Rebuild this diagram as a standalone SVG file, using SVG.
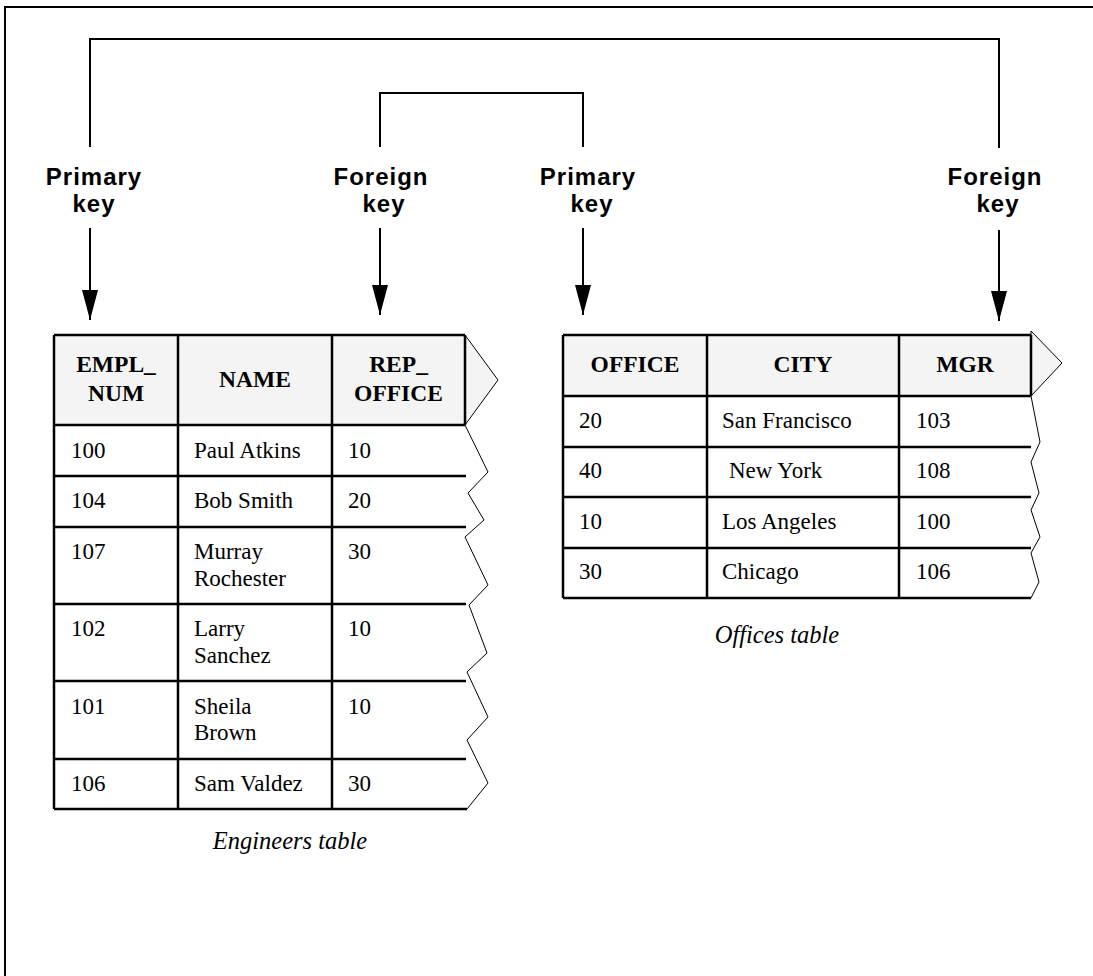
<svg xmlns="http://www.w3.org/2000/svg" width="1093" height="976" viewBox="0 0 1093 976">
<style>
.frame{fill:none;stroke:#000;stroke-width:2}
.conn{fill:none;stroke:#000;stroke-width:2}
.tl{fill:none;stroke:#000;stroke-width:2.5}
.zz{fill:none;stroke:#000;stroke-width:1}
.hdr{fill:#f4f4f4;stroke:none}
.chev{fill:#f4f4f4;stroke:#000;stroke-width:1}
.lbl{font-family:"Liberation Sans",Arial,sans-serif;font-weight:bold;font-size:24px;letter-spacing:1px;text-anchor:middle;fill:#000}
.th{font-family:"Liberation Serif","Times New Roman",serif;font-weight:bold;font-size:23.5px;text-anchor:middle;fill:#000}
.td{font-family:"Liberation Serif","Times New Roman",serif;font-size:23px;fill:#000}
.cap{font-family:"Liberation Serif","Times New Roman",serif;font-style:italic;font-size:24.5px;text-anchor:middle;fill:#000}
</style>
<defs>
<marker id="ah" markerUnits="userSpaceOnUse" viewBox="0 -8 30 16" refX="30" refY="0" markerWidth="30" markerHeight="16" orient="auto">
<path d="M0,-8 L30,0 L0,8 z" fill="#000"/>
</marker>
</defs>
<rect width="1093" height="976" fill="#fff"/>
<path class="frame" d="M5,976 V7 H1093"/>

<g id="connectors">
<path class="conn" d="M90,147 V39 H999 V148"/>
<path class="conn" d="M380,147 V93 H583 V147"/>
<line class="conn" x1="90" y1="228" x2="90" y2="320" marker-end="url(#ah)"/>
<line class="conn" x1="380" y1="228" x2="380" y2="315" marker-end="url(#ah)"/>
<line class="conn" x1="583" y1="228" x2="583" y2="315" marker-end="url(#ah)"/>
<line class="conn" x1="999" y1="230" x2="999" y2="321" marker-end="url(#ah)"/>
</g>

<g id="label-pk1"><text class="lbl" x="94" y="185">Primary</text><text class="lbl" x="94" y="212">key</text></g>
<g id="label-fk1"><text class="lbl" x="381" y="185">Foreign</text><text class="lbl" x="384" y="212">key</text></g>
<g id="label-pk2"><text class="lbl" x="588" y="185">Primary</text><text class="lbl" x="592" y="212">key</text></g>
<g id="label-fk2"><text class="lbl" x="995" y="185">Foreign</text><text class="lbl" x="998" y="212">key</text></g>

<g id="engineers-table">
<rect class="hdr" x="54" y="335" width="411" height="90"/>
<polygon class="chev" points="465,335 498,380 465,425"/>
<polyline class="zz" points="465,425 488,472 468,493 484,520 465,537 488,585 469,605 487,653 467,672 488,717 467,740 488,783 467,809"/>
<path class="tl" d="M54,335 H465 M54,335 V809 M54,809 H467 M178,335 V809 M332,335 V809 M465,335 V425 M54,425 H465 M54,476 H466 M54,527 H466 M54,604 H466 M54,681 H466 M54,759 H466"/>
<text class="th" x="116" y="372">EMPL_</text>
<text class="th" x="116" y="401">NUM</text>
<text class="th" x="255" y="387">NAME</text>
<text class="th" x="398.5" y="372">REP_</text>
<text class="th" x="398.5" y="401">OFFICE</text>
<text class="td" x="71" y="458">100</text><text class="td" x="194" y="458">Paul Atkins</text><text class="td" x="348" y="458">10</text>
<text class="td" x="71" y="508">104</text><text class="td" x="194" y="508">Bob Smith</text><text class="td" x="348" y="508">20</text>
<text class="td" x="71" y="559">107</text><text class="td" x="194" y="559">Murray</text><text class="td" x="194" y="586">Rochester</text><text class="td" x="348" y="559">30</text>
<text class="td" x="71" y="636">102</text><text class="td" x="194" y="636">Larry</text><text class="td" x="194" y="663">Sanchez</text><text class="td" x="348" y="636">10</text>
<text class="td" x="71" y="714">101</text><text class="td" x="194" y="714">Sheila</text><text class="td" x="194" y="740">Brown</text><text class="td" x="348" y="714">10</text>
<text class="td" x="71" y="791">106</text><text class="td" x="194" y="791">Sam Valdez</text><text class="td" x="348" y="791">30</text>
<text class="cap" x="290" y="849">Engineers table</text>
</g>

<g id="offices-table">
<rect class="hdr" x="563" y="335" width="468" height="61"/>
<polygon class="chev" points="1031,331 1062,363 1031,396"/>
<polyline class="zz" points="1031,396 1040,442 1031,462 1039,493 1031,510 1040,537 1031,553 1039,582 1031,598"/>
<path class="tl" d="M563,335 H1031 M563,335 V598 M563,598 H1031 M707,335 V598 M899,335 V598 M1031,335 V396 M563,396 H1031 M563,447 H1031 M563,497 H1031 M563,548 H1031"/>
<text class="th" x="635" y="372">OFFICE</text>
<text class="th" x="803" y="372">CITY</text>
<text class="th" x="965" y="372">MGR</text>
<text class="td" x="579" y="428">20</text><text class="td" x="722" y="428">San Francisco</text><text class="td" x="916" y="428">103</text>
<text class="td" x="579" y="478">40</text><text class="td" x="729" y="478">New York</text><text class="td" x="916" y="478">108</text>
<text class="td" x="579" y="529">10</text><text class="td" x="722" y="529">Los Angeles</text><text class="td" x="916" y="529">100</text>
<text class="td" x="579" y="579">30</text><text class="td" x="722" y="579">Chicago</text><text class="td" x="916" y="579">106</text>
<text class="cap" x="777" y="643">Offices table</text>
</g>
</svg>
